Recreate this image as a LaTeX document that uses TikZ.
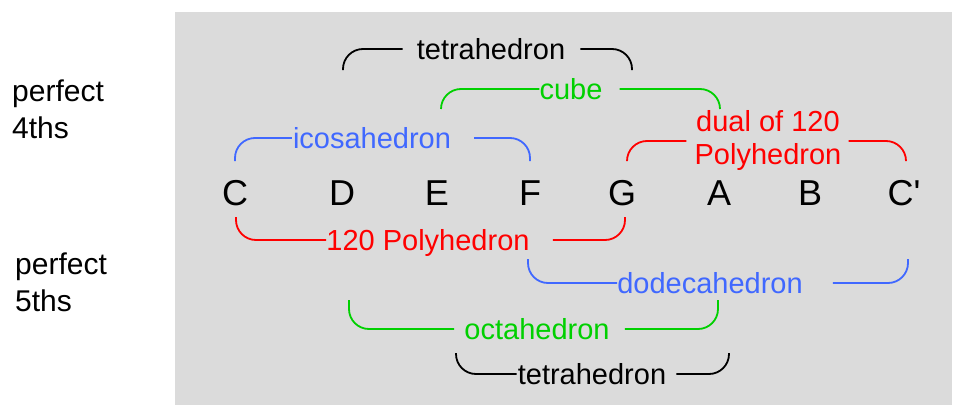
\documentclass[tikz,border=0pt]{standalone}
\usepackage{fontspec}
\setmainfont{Liberation Sans}
\definecolor{BgClr}{RGB}{219,219,219}
\definecolor{BlueClr}{RGB}{64,104,255}
\definecolor{GreenClr}{RGB}{0,208,0}
\definecolor{RedClr}{RGB}{255,0,0}

\begin{document}
\begin{tikzpicture}[x=1pt,y=-1pt,
  brk/.style={line width=1.8pt,rounded corners=20pt},
  tag/.style={font=\fontsize{29}{33}\selectfont,inner sep=0pt},
  tagline/.style={tag,text height=20pt,text depth=0pt},
  note/.style={font=\fontsize{36}{40}\selectfont,inner sep=0pt,anchor=base},
  side/.style={font=\fontsize{30}{37}\selectfont,inner sep=0pt,align=left,anchor=base west}]
\useasboundingbox (0,0) rectangle (954,407);
\fill[BgClr] (175,12) rectangle (952,405);

% side labels
\node[side] (fourths) at (12,138) {perfect\\4ths};
\node[side] (fifths) at (15,311) {perfect\\5ths};

% the eight notes
\foreach \nm/\px/\txt in {nC/235/C,nD/342/D,nE/437/E,nF/530/F,nG/622/G,nA/719/A,nB/810/B,nCC/904/C\textquotesingle}
  \node[note] (\nm) at (\px,205) {\txt};

% perfect 4ths, above the notes
\coordinate (tetUpL) at (343,70);
\coordinate (tetUpR) at (632,70);
\node[tagline] (tetUp) at (491,49) {tetrahedron};
\draw[brk] (tetUpL) |- ([xshift=-14pt]tetUp.west);
\draw[brk] ([xshift=15pt]tetUp.east) -| (tetUpR);

\coordinate (cubeL) at (441,109);
\coordinate (cubeR) at (720,109);
\node[tagline,text=GreenClr] (cube) at (571,89) {cube};
\draw[brk,GreenClr] (cubeL) |- (cube.west);
\draw[brk,GreenClr] ([xshift=17pt]cube.east) -| (cubeR);

\coordinate (icoL) at (235,161);
\coordinate (icoR) at (530,161);
\node[tagline,text=BlueClr] (ico) at (372,138) {icosahedron};
\draw[brk,BlueClr] (icoL) |- ([xshift=-1pt]ico.west);
\draw[brk,BlueClr] ([xshift=23pt]ico.east) -| (icoR);

\coordinate (dualL) at (627,160);
\coordinate (dualR) at (906,160);
\node[tag,text=RedClr,align=center] (dual) at (768,141) {dual of 120\\Polyhedron};
\draw[brk,RedClr] (dualL) |- ([xshift=-8pt]dual.west);
\draw[brk,RedClr] ([xshift=7pt]dual.east) -| (dualR);

% perfect 5ths, below the notes
\coordinate (polyL) at (236,217);
\coordinate (polyR) at (625,217);
\node[tagline,text=RedClr] (poly) at (428,240) {120 Polyhedron};
\draw[brk,RedClr] (polyL) |- (poly.west);
\draw[brk,RedClr] ([xshift=23pt]poly.east) -| (polyR);

\coordinate (dodL) at (528,259);
\coordinate (dodR) at (908,259);
\node[tagline,text=BlueClr] (dod) at (710,283) {dodecahedron};
\draw[brk,BlueClr] (dodL) |- (dod.west);
\draw[brk,BlueClr] ([xshift=30pt]dod.east) -| (dodR);

\coordinate (octL) at (349,300);
\coordinate (octR) at (718,300);
\node[tagline,text=GreenClr] (oct) at (537,329) {octahedron};
\draw[brk,GreenClr] (octL) |- ([xshift=-10pt]oct.west);
\draw[brk,GreenClr] ([xshift=15pt]oct.east) -| (octR);

\coordinate (tetLoL) at (456,353);
\coordinate (tetLoR) at (729,353);
\node[tagline] (tetLo) at (592,374) {tetrahedron};
\draw[brk] (tetLoL) |- ([xshift=-1pt]tetLo.west);
\draw[brk] ([xshift=10pt]tetLo.east) -| (tetLoR);
\end{tikzpicture}
\end{document}
